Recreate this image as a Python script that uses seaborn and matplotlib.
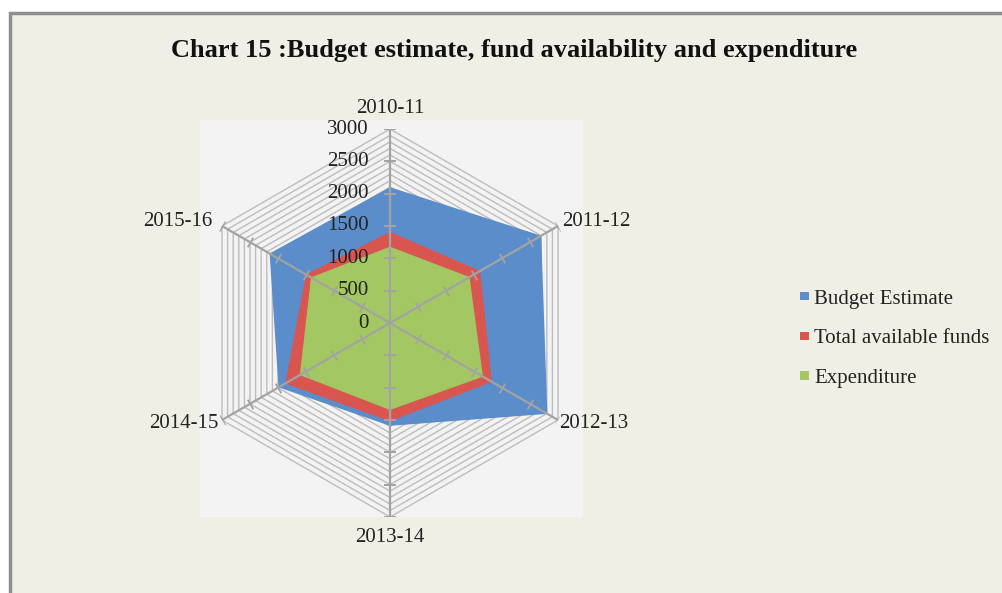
import numpy as np
import matplotlib
matplotlib.use("Agg")
import matplotlib.pyplot as plt
import matplotlib.transforms as mtransforms
from matplotlib.patches import Rectangle, Patch
import seaborn as sns

# ---- data -------------------------------------------------------------
years = ["2010-11", "2011-12", "2012-13", "2013-14", "2014-15", "2015-16"]
budget_estimate = [2100, 2700, 2810, 1590, 1990, 2150]
total_available_funds = [1410, 1610, 1820, 1520, 1870, 1500]
expenditure = [1180, 1420, 1660, 1345, 1610, 1410]
series_names = ["Budget Estimate", "Total available funds", "Expenditure"]
radial_ticks = [0, 500, 1000, 1500, 2000, 2500, 3000]
grid_step = 100
title = "Chart 15 :Budget estimate, fund availability and expenditure"

# ---- style ------------------------------------------------------------
sns.set_theme(style="white")
plt.rcParams["font.family"] = ["Liberation Serif", "DejaVu Serif"]
palette = sns.color_palette(["#5A8DCA", "#D9554F", "#A3C762"])

W, H = 1003, 593
fig = plt.figure(figsize=(W / 100, H / 100), dpi=100)
fig.patch.set_facecolor("white")

# chart frame and plot area backgrounds (behind the axes)
fig.patches.append(Rectangle((10 / W, -0.02), 1.0, 1 + 0.02 - 13 / H,
                             transform=fig.transFigure, facecolor="#EFEFE6",
                             edgecolor="#8E8E8E", lw=2.5, zorder=-10))
fig.patches.append(Rectangle((200 / W, (H - 517) / H), 383 / W, (517 - 120) / H,
                             transform=fig.transFigure, facecolor="#F3F3F3",
                             edgecolor="none", zorder=-9))

# radar axes: centre (390, 323), radius 194 px
cx, cy, R = 390, 323, 194
ax = fig.add_axes([(cx - R) / W, (H - cy - R) / H, 2 * R / W, 2 * R / H],
                  projection="polar")
ax.set_theta_offset(np.pi / 2)
ax.set_theta_direction(-1)
ax.set_ylim(0, radial_ticks[-1])
ax.set_facecolor("none")
ax.grid(False)
ax.spines["polar"].set_visible(False)
ax.set_xticks([])
ax.set_yticks([])

n = len(years)
angles = np.arange(n) * 2 * np.pi / n
closed = np.append(angles, angles[0])

# hexagonal gridlines
for lvl in range(grid_step, radial_ticks[-1] + 1, grid_step):
    ax.plot(closed, [lvl] * (n + 1), color="#BDBDBD", lw=1.0, zorder=1)

# filled series
for i, (vals, name) in enumerate(zip([budget_estimate, total_available_funds, expenditure],
                                     series_names)):
    ax.fill(closed, list(vals) + [vals[0]], color=palette[i], lw=0, zorder=2 + i)

# spokes with tick marks
spoke_col = "#A3A3A3"
for a in angles:
    ax.plot([a, a], [0, radial_ticks[-1]], color=spoke_col, lw=1.6, zorder=10)
    deg = np.degrees(a)
    ax.plot([a] * (len(radial_ticks) - 1), radial_ticks[1:], ls="none",
            marker=(2, 0, 90 - deg), ms=8, mec=spoke_col, mew=1.3, zorder=10)

# radial value labels along the first spoke
lab_tr = mtransforms.offset_copy(ax.transData, fig=fig, x=-21, y=0, units="dots")
for v in radial_ticks:
    ax.text(0, v, str(v), transform=lab_tr, ha="right", va="center",
            fontsize=15, color="#222222", zorder=11)

# category labels
cat_pos = [
    (0, 21, "center", "center"),
    (4, 4, "left", "center"),
    (1, -4, "left", "center"),
    (0, -21, "center", "center"),
    (-3, -4, "right", "center"),
    (-10, 4, "right", "center"),
]
for a, yr, (dx, dy, ha, va) in zip(angles, years, cat_pos):
    tr = mtransforms.offset_copy(ax.transData, fig=fig, x=dx, y=dy, units="dots")
    ax.text(a, radial_ticks[-1], yr, transform=tr, ha=ha, va=va,
            fontsize=15, color="#222222", zorder=11)

# legend
handles = [Patch(facecolor=palette[i], edgecolor="none") for i in range(3)]
fig.legend(handles, series_names, loc="center left",
           bbox_to_anchor=(790 / W, 1 - 339 / H), frameon=False,
           handlelength=0.42, handleheight=0.26, handletextpad=0.25,
           labelspacing=1.0, borderpad=0, fontsize=15,
           labelcolor="#222222")

# title
fig.text(514 / W, 1 - 50 / H, title, ha="center", va="center",
         fontsize=19, fontweight="bold", color="#111111")

fig.savefig("out.png", dpi=100)
